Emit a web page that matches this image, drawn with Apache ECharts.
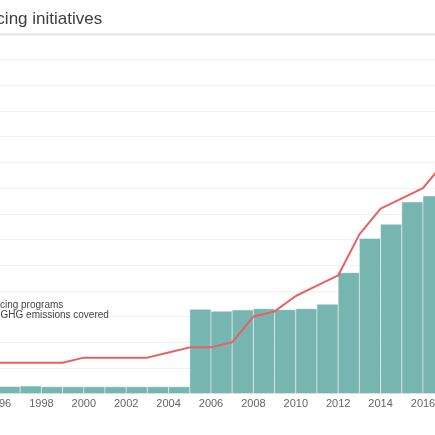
<!DOCTYPE html>
<html>
<head>
<meta charset="utf-8">
<script src="https://cdn.jsdelivr.net/npm/echarts@6/dist/echarts.min.js"></script>
<style>
  html, body { margin: 0; padding: 0; background: #fff; }
  #chart { width: 435px; height: 435px; }
</style>
</head>
<body>
<div id="chart"></div>
<script>
// years shown on the x axis (bars span year..year+1, line points sit on the year)
var barYears = [1996, 1997, 1998, 1999, 2000, 2001, 2002, 2003, 2004, 2005, 2006,
                2007, 2008, 2009, 2010, 2011, 2012, 2013, 2014, 2015, 2016];
// share of global GHG emissions covered (%)
var shareCovered = [0.41, 0.44, 0.40, 0.40, 0.40, 0.40, 0.40, 0.40, 0.40, 4.92, 4.81,
                    4.88, 4.96, 4.90, 4.96, 5.22, 7.06, 9.06, 9.89, 11.19, 11.54];

var lineYears = [1996, 1997, 1998, 1999, 2000, 2001, 2002, 2003, 2004, 2005, 2006,
                 2007, 2008, 2009, 2010, 2011, 2012, 2013, 2014, 2015, 2016, 2017];
// number of carbon pricing programs
var programCount = [6, 6, 6, 6, 7, 7, 7, 7, 8, 9, 9,
                    10, 15, 16, 19, 21, 23, 31, 36, 38, 40, 45];

var nameLine = 'Number of carbon pricing programs';
var nameBar = 'Percentage of global GHG emissions covered';

var barData = barYears.map(function (y, i) { return [y, shareCovered[i]]; });
var lineData = lineYears.map(function (y, i) { return [y, programCount[i]]; });

var font = '"Liberation Sans", Arial, sans-serif';

var option = {
    animation: false,
    title: {
        text: 'Carbon pricing initiatives',
        left: -88,
        top: 6,
        textStyle: { fontFamily: font, fontSize: 17, fontWeight: 'normal', color: '#3d3d3d' }
    },
    graphic: [
        { type: 'line', shape: { x1: 0, y1: 34.5, x2: 435, y2: 34.5 },
          style: { stroke: '#e4e4e4', lineWidth: 2 }, z: 10 }
    ],
    legend: {
        orient: 'vertical',
        left: -124,
        top: 295,
        itemWidth: 20,
        itemHeight: 10,
        itemGap: 0,
        textStyle: { fontFamily: font, fontSize: 10, color: '#444' },
        data: [{ name: nameLine, icon: 'rect' }, { name: nameBar, icon: 'rect' }]
    },
    grid: { left: -43.4, right: -30.4, top: 34, bottom: 41.4, containLabel: false, outerBoundsMode: 'none' },
    xAxis: {
        type: 'value',
        min: 1994,
        max: 2018,
        interval: 2,
        axisLine: { show: false },
        axisTick: { show: false },
        splitLine: { show: false },
        axisLabel: {
            color: '#666',
            fontFamily: font,
            fontSize: 11,
            margin: 5,
            formatter: function (v) { return String(v); }
        }
    },
    yAxis: [
        {
            type: 'value',
            min: 0, max: 70, interval: 5,
            axisLine: { show: false },
            axisTick: { show: false },
            axisLabel: { show: false },
            splitLine: { lineStyle: { color: '#f2f2f2', width: 1 } }
        },
        {
            type: 'value',
            min: 0, max: 21, interval: 1.5,
            axisLine: { show: false },
            axisTick: { show: false },
            axisLabel: { show: false },
            splitLine: { show: false }
        }
    ],
    series: [
        {
            name: nameBar,
            type: 'custom',
            yAxisIndex: 1,
            itemStyle: { color: '#77b6b0' },
            renderItem: function (params, api) {
                var year = api.value(0);
                var p0 = api.coord([year, api.value(1)]);
                var p1 = api.coord([year + 1, 0]);
                return {
                    type: 'rect',
                    shape: { x: p0[0], y: p0[1], width: p1[0] - p0[0], height: p1[1] - p0[1] },
                    style: { fill: '#77b6b0', stroke: 'rgba(255,255,255,0.45)', lineWidth: 1 }
                };
            },
            data: barData,
            z: 2
        },
        {
            name: nameLine,
            type: 'line',
            yAxisIndex: 0,
            showSymbol: false,
            color: '#e8605f',
            lineStyle: { color: '#e8605f', width: 2 },
            data: lineData,
            z: 3
        }
    ]
};

echarts.init(document.getElementById('chart')).setOption(option);
</script>
</body>
</html>
